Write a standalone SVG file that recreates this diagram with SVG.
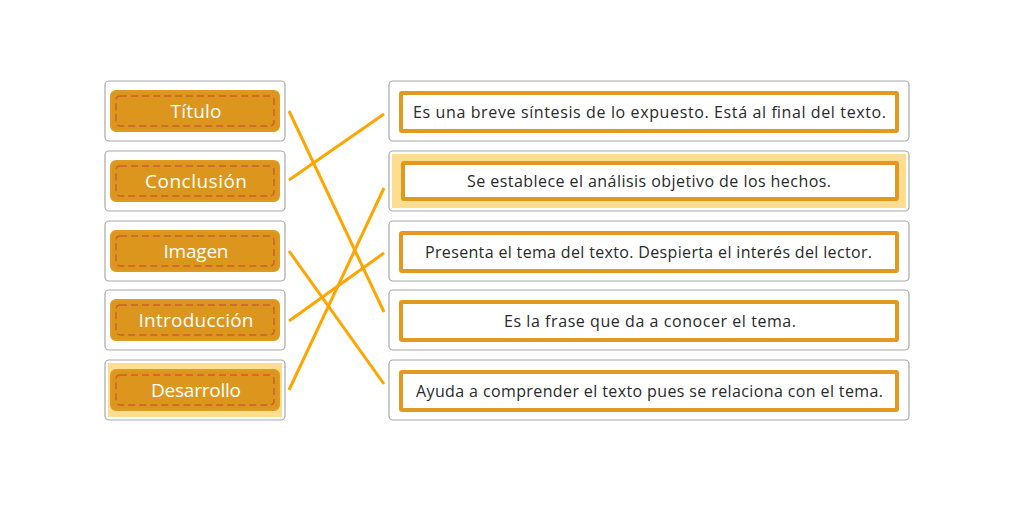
<svg xmlns="http://www.w3.org/2000/svg" width="1009" height="516" viewBox="0 0 1009 516">
<style>
.card{fill:#fff;stroke:#a8a8a8;stroke-width:1.2}
.hl{fill:#fddd8f}
.pill{fill:#dd961d;stroke:#e09a22;stroke-width:2}
.dash{fill:none;stroke:#c9602c;stroke-width:1.4;stroke-dasharray:7 4}
.lt{font-family:"Open Sans","Liberation Sans",sans-serif;font-size:19px;fill:#fff;text-anchor:middle}
.frame{fill:#fff;stroke:#e3981f;stroke-width:4}
.rt{font-family:"Open Sans","Liberation Sans",sans-serif;font-size:16px;fill:#2a2a2a;text-anchor:middle}
.conn line{stroke:#ffa500;stroke-width:3;stroke-linecap:butt}
</style>
<rect width="1009" height="516" fill="#fff"/>
<g id="left-titulo">
<rect class="card" x="105" y="81" width="180" height="60" rx="4"/>
<rect class="pill" x="111" y="91" width="168" height="40" rx="5"/>
<rect class="dash" x="116" y="96" width="158" height="30" rx="4"/>
<text class="lt" x="196" y="117.5" textLength="51" lengthAdjust="spacing">Título</text>
</g>
<g id="left-conclusion">
<rect class="card" x="105" y="151" width="180" height="60" rx="4"/>
<rect class="pill" x="111" y="161" width="168" height="40" rx="5"/>
<rect class="dash" x="116" y="166" width="158" height="30" rx="4"/>
<text class="lt" x="196" y="187.5" textLength="102" lengthAdjust="spacing">Conclusión</text>
</g>
<g id="left-imagen">
<rect class="card" x="105" y="221" width="180" height="60" rx="4"/>
<rect class="pill" x="111" y="231" width="168" height="40" rx="5"/>
<rect class="dash" x="116" y="236" width="158" height="30" rx="4"/>
<text class="lt" x="196" y="257.5" textLength="65" lengthAdjust="spacing">Imagen</text>
</g>
<g id="left-introduccion">
<rect class="card" x="105" y="290" width="180" height="60" rx="4"/>
<rect class="pill" x="111" y="300" width="168" height="40" rx="5"/>
<rect class="dash" x="116" y="305" width="158" height="30" rx="4"/>
<text class="lt" x="196" y="326.5" textLength="115" lengthAdjust="spacing">Introducción</text>
</g>
<g id="left-desarrollo">
<rect class="card" x="105" y="360" width="180" height="60" rx="4"/>
<rect class="hl" x="108" y="363" width="174" height="54"/>
<rect class="pill" x="111" y="370" width="168" height="40" rx="5"/>
<rect class="dash" x="116" y="375" width="158" height="30" rx="4"/>
<text class="lt" x="196" y="396.5" textLength="90" lengthAdjust="spacing">Desarrollo</text>
</g>
<g id="right-sintesis">
<rect class="card" x="389" y="81" width="520" height="60" rx="4"/>
<rect class="frame" x="401" y="93" width="496" height="38" rx="1"/>
<text class="rt" x="649.5" y="118" textLength="473" lengthAdjust="spacing">Es una breve síntesis de lo expuesto. Está al final del texto.</text>
</g>
<g id="right-analisis">
<rect class="card" x="389" y="151" width="520" height="60" rx="4"/>
<rect class="hl" x="392" y="154" width="514" height="54"/>
<rect class="frame" x="403" y="163" width="494" height="36" rx="1"/>
<text class="rt" x="649" y="187" textLength="364" lengthAdjust="spacing">Se establece el análisis objetivo de los hechos.</text>
</g>
<g id="right-presenta">
<rect class="card" x="389" y="221" width="520" height="60" rx="4"/>
<rect class="frame" x="401" y="233" width="496" height="38" rx="1"/>
<text class="rt" x="648.5" y="258" textLength="447" lengthAdjust="spacing">Presenta el tema del texto. Despierta el interés del lector.</text>
</g>
<g id="right-frase">
<rect class="card" x="389" y="290" width="520" height="60" rx="4"/>
<rect class="frame" x="401" y="302" width="496" height="38" rx="1"/>
<text class="rt" x="650" y="327" textLength="292" lengthAdjust="spacing">Es la frase que da a conocer el tema.</text>
</g>
<g id="right-ayuda">
<rect class="card" x="389" y="360" width="520" height="60" rx="4"/>
<rect class="frame" x="401" y="372" width="496" height="38" rx="1"/>
<text class="rt" x="649.5" y="397" textLength="467" lengthAdjust="spacing">Ayuda a comprender el texto pues se relaciona con el tema.</text>
</g>
<g id="connectors" class="conn">
<line x1="289" y1="111" x2="384" y2="312"/>
<line x1="289" y1="180" x2="384" y2="114"/>
<line x1="289" y1="251" x2="384" y2="384"/>
<line x1="289" y1="321" x2="384" y2="253"/>
<line x1="289" y1="390" x2="384" y2="188"/>
</g>
</svg>
